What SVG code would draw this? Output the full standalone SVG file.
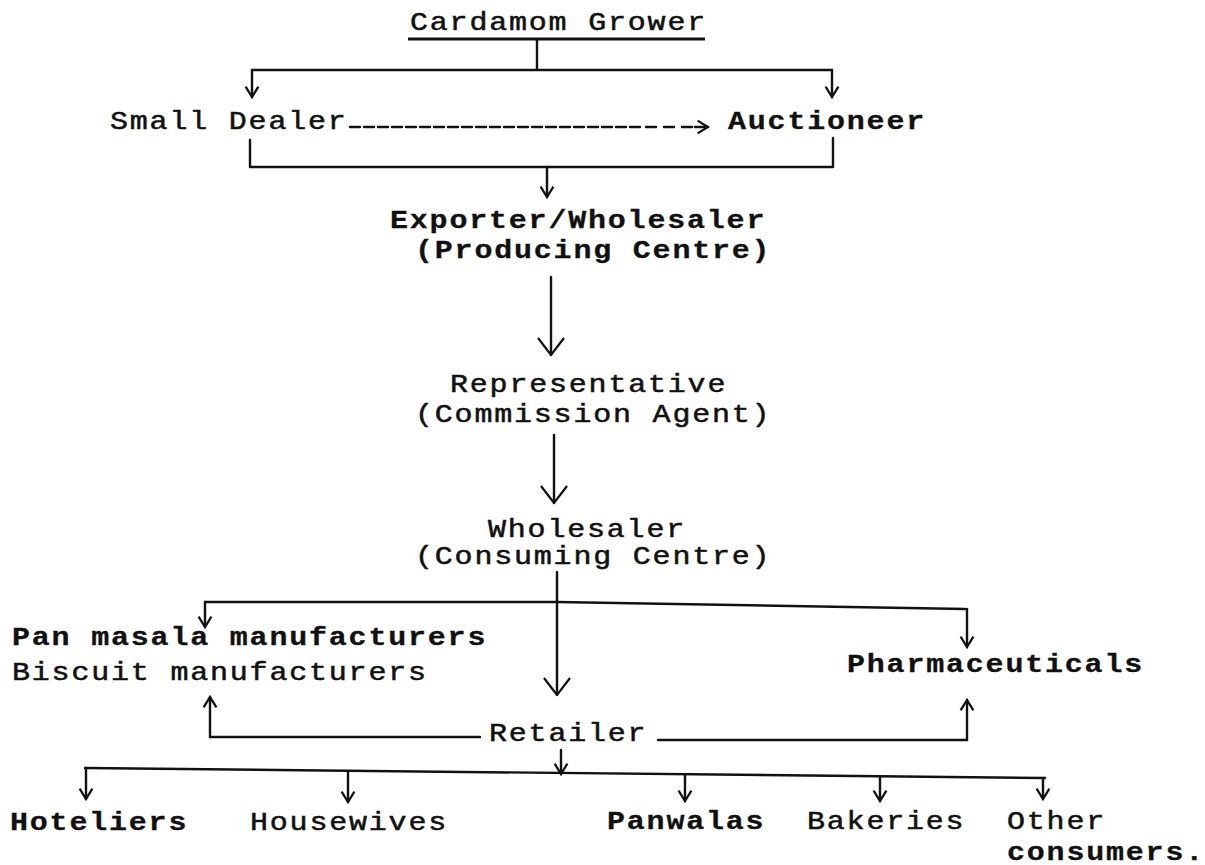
<svg xmlns="http://www.w3.org/2000/svg" width="1205" height="865" viewBox="0 0 1205 865">
<style>
text{font-family:"Liberation Mono","Courier New",monospace;font-size:25px;letter-spacing:1.5px;fill:#111;stroke:#111;stroke-width:0.5}
.b{font-weight:bold;stroke-width:0.3}
.ln{fill:none;stroke:#111;stroke-width:2.4;stroke-linecap:round;stroke-linejoin:round}
.sm{marker-end:url(#ah)}
.lg{marker-end:url(#ahL)}
</style>
<defs>
<marker id="ah" viewBox="0 0 20 20" refX="18" refY="10" markerWidth="16" markerHeight="16" orient="auto" markerUnits="userSpaceOnUse">
<path d="M5,2 L18,10 L5,18" fill="none" stroke="#111" stroke-width="2.8"/>
</marker>
<marker id="ahL" viewBox="0 0 20 30" refX="19" refY="15" markerWidth="20" markerHeight="30" orient="auto" markerUnits="userSpaceOnUse">
<path d="M2,2 L19,15 L2,28" fill="none" stroke="#111" stroke-width="2.2"/>
</marker>
</defs>
<g id="connectors">
<path class="ln" d="M537,39 V70 M252,70 H832"/>
<path class="ln sm" d="M252,70 V97"/>
<path class="ln sm" d="M832,70 V97"/>
<path class="ln" d="M350,127 H640" stroke-dasharray="10 4"/>
<path class="ln" d="M646,127 H700" stroke-dasharray="10 8"/>
<path class="ln sm" d="M695,127 H708"/>
<path class="ln" d="M250,140 V167 H833 V138"/>
<path class="ln sm" d="M547,167 V197"/>
<path class="ln lg" d="M551,277 V355"/>
<path class="ln lg" d="M554,435 V503"/>
<path class="ln" d="M557,572 V600"/>
<path class="ln lg" d="M557,600 V695"/>
<path class="ln" d="M205,602 H557 L965,609" stroke-width="3.2"/>
<path class="ln sm" d="M205,602 V627"/>
<path class="ln sm" d="M967,609 V647"/>
<path class="ln sm" d="M210,737 V697"/>
<path class="ln" d="M210,737 H480"/>
<path class="ln sm" d="M967,740 V700"/>
<path class="ln" d="M658,740 H967"/>
<path class="ln" d="M85,768 L1045,778"/>
<path class="ln sm" d="M561,750 V774"/>
<path class="ln sm" d="M86,768 V799"/>
<path class="ln sm" d="M348,771 V802"/>
<path class="ln sm" d="M685,775 V801"/>
<path class="ln sm" d="M880,777 V801"/>
<path class="ln sm" d="M1043,778 V799"/>
</g>
<g id="cardamom-grower"><text transform="matrix(1.2 0 0 1 410 30)">Cardamom Grower</text><path d="M408,39 H705" stroke="#111" stroke-width="3"/></g>
<g id="small-dealer"><text transform="matrix(1.2 0 0 1 110 129)">Small Dealer</text></g>
<g id="auctioneer"><text class="b" transform="matrix(1.2 0 0 1 728 129)">Auctioneer</text></g>
<g id="exporter"><text class="b" transform="matrix(1.2 0 0 1 390 228)">Exporter/Wholesaler</text><text class="b" transform="matrix(1.2 0 0 1 415 258)">(Producing Centre)</text></g>
<g id="representative"><text transform="matrix(1.2 0 0 1 450 392)">Representative</text><text transform="matrix(1.2 0 0 1 415 422)">(Commission Agent)</text></g>
<g id="wholesaler"><text transform="matrix(1.2 0 0 1 488 537)">Wholesaler</text><text transform="matrix(1.2 0 0 1 415 564)">(Consuming Centre)</text></g>
<g id="manufacturers"><text class="b" transform="matrix(1.2 0 0 1 12 645)">Pan masala manufacturers</text><text transform="matrix(1.2 0 0 1 12 680)">Biscuit manufacturers</text></g>
<g id="pharmaceuticals"><text class="b" transform="matrix(1.2 0 0 1 847 672)">Pharmaceuticals</text></g>
<g id="retailer"><text transform="matrix(1.2 0 0 1 489 741)">Retailer</text></g>
<g id="hoteliers"><text class="b" transform="matrix(1.2 0 0 1 10 830)">Hoteliers</text></g>
<g id="housewives"><text transform="matrix(1.2 0 0 1 250 830)">Housewives</text></g>
<g id="panwalas"><text class="b" transform="matrix(1.2 0 0 1 607 829)">Panwalas</text></g>
<g id="bakeries"><text transform="matrix(1.2 0 0 1 807 829)">Bakeries</text></g>
<g id="other"><text transform="matrix(1.2 0 0 1 1007 829)">Other</text><text class="b" transform="matrix(1.2 0 0 1 1007 860)">consumers.</text></g>
</svg>
